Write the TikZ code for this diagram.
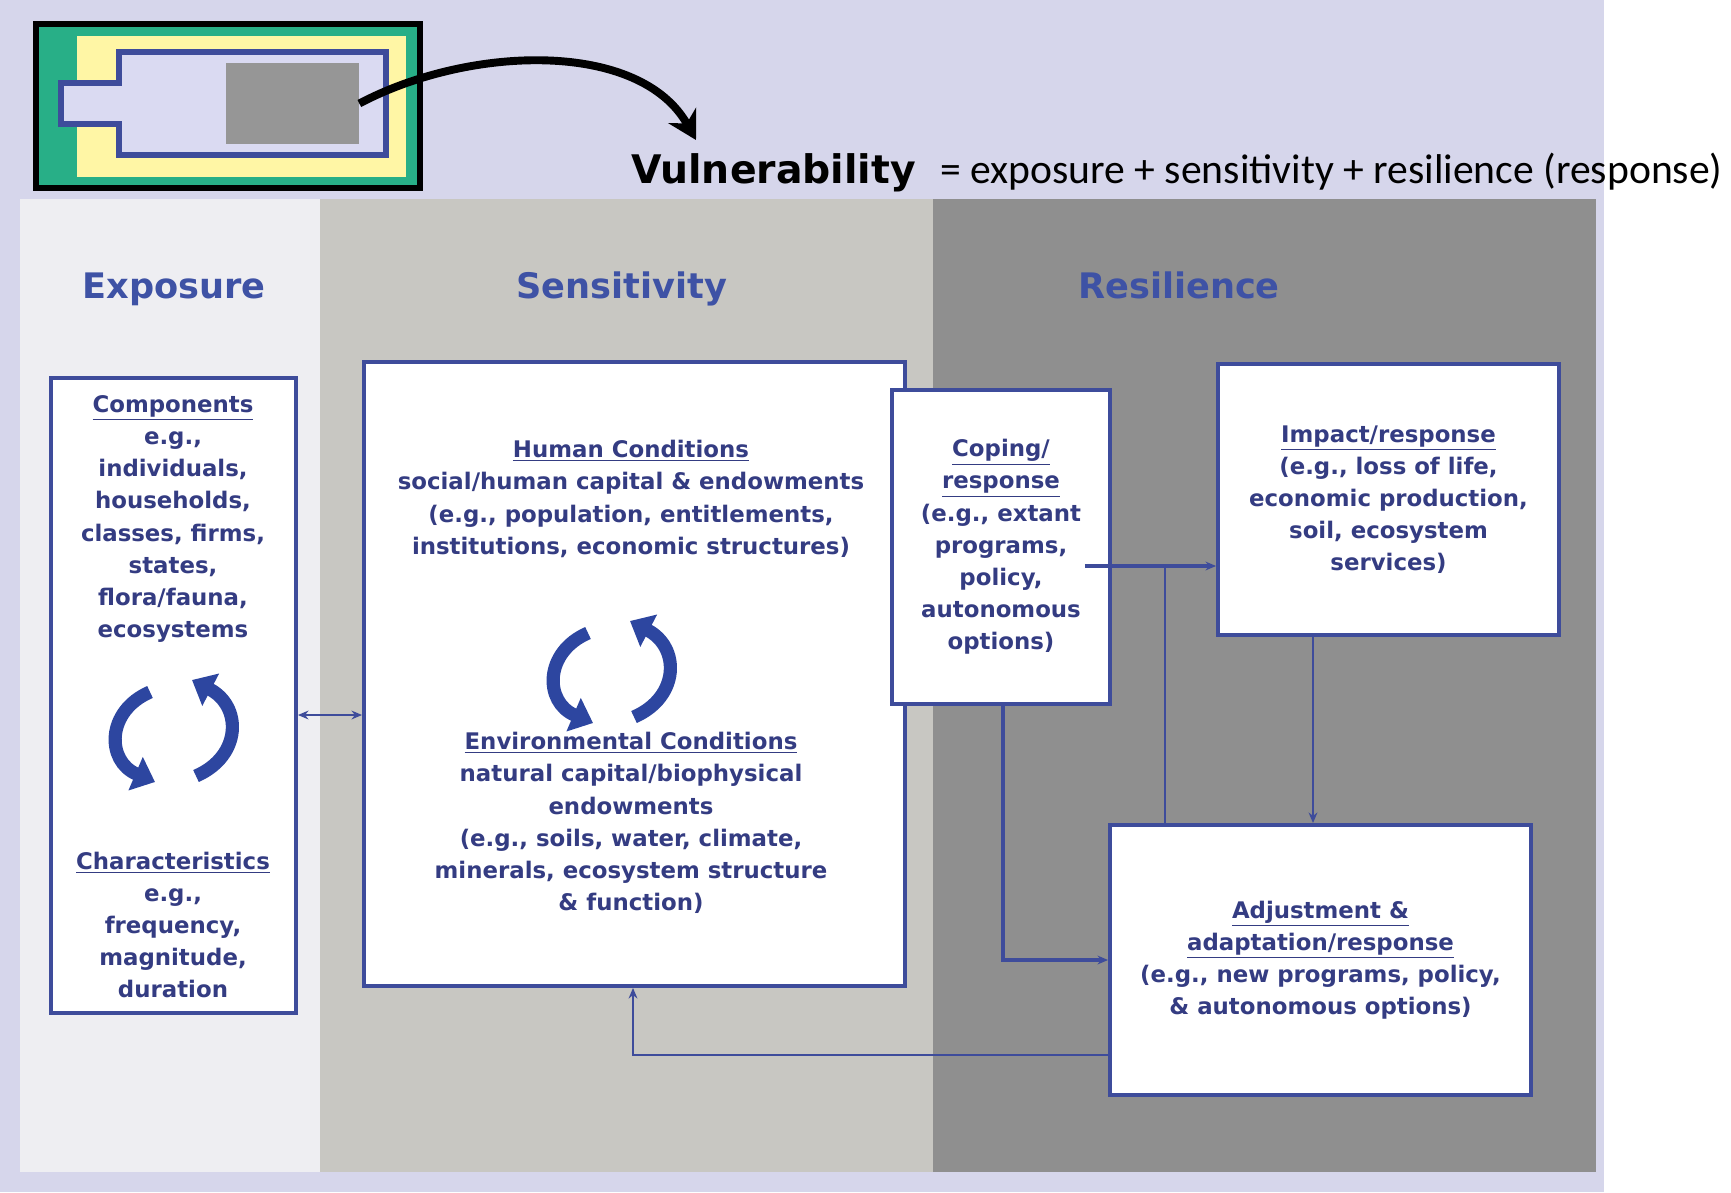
\documentclass[tikz,border=0pt]{standalone}
\usepackage{fontspec}
\setmainfont{DejaVu Sans}
\newfontfamily\calibfont{Carlito}
\usetikzlibrary{arrows.meta}
\definecolor{lavbg}{RGB}{214,214,235}
\definecolor{expobg}{RGB}{238,238,242}
\definecolor{sensbg}{RGB}{200,199,194}
\definecolor{resibg}{RGB}{143,143,143}
\definecolor{boxblue}{RGB}{62,76,155}
\definecolor{txtblue}{RGB}{52,60,130}
\definecolor{headblue}{RGB}{62,82,165}
\definecolor{cycblue}{RGB}{45,70,160}
\definecolor{icgreen}{RGB}{40,175,135}
\definecolor{icyellow}{RGB}{255,246,165}
\definecolor{iclav}{RGB}{218,218,242}
\definecolor{icgrey}{RGB}{150,150,150}

\begin{document}
\begin{tikzpicture}[x=0.2mm,y=-0.2mm,>={Stealth[length=6pt,width=5pt]},
  box/.style={draw=boxblue,line width=2.2pt,fill=white,inner sep=0pt},
  txt/.style={text=txtblue,align=center,font=\bfseries\fontsize{13}{18.3}\selectfont},
  head/.style={text=headblue,anchor=base,font=\bfseries\fontsize{20}{24}\selectfont},
  link/.style={draw=boxblue,line width=1.5pt,->},
  biglink/.style={link,line width=2.6pt},
  cyc/.style={draw=cycblue,line width=7.5pt,-{Triangle[width=20pt,length=12pt]}}]
  \useasboundingbox (0,0) rectangle (1731,1192);
  \fill[white] (0,0) rectangle (1731,1192);
  \fill[lavbg] (0,0) rectangle (1604,1192);
  \fill[expobg] (20,199) rectangle (320,1172);
  \fill[sensbg] (320,199) rectangle (933,1172);
  \fill[resibg] (933,199) rectangle (1596,1172);

  \draw[line width=3pt,fill=icgreen] (36,24) rectangle (420,188);
  \fill[icyellow] (77,36) rectangle (406,177);
  \draw[boxblue,line width=3pt,fill=iclav] (119,52) -- (386,52) -- (386,155) -- (119,155)
    -- (119,124) -- (61,124) -- (61,83) -- (119,83) -- cycle;
  \node[fill=icgrey,minimum width=26.6mm,minimum height=16.2mm,inner sep=0pt] (core) at (292.5,103.5) {};

  \node[anchor=base west,inner sep=0pt,font=\bfseries\fontsize{22.4}{26}\selectfont] (vul) at (631,183) {Vulnerability};
  \node[anchor=base west,inner sep=0pt,font=\calibfont\fontsize{23.7}{28}\selectfont] (eqn) at (940,183)
    {= exposure + sensitivity + resilience (response)};
  \coordinate (vtip) at (696,140);
  \draw[line width=4.5pt,-{Stealth[length=16pt,width=18pt]}] (core.east) .. controls (470,45) and (640,40) .. (vtip);

  \node[head] (hexpo) at (174,298) {Exposure};
  \node[head] (hsens) at (622,298) {Sensitivity};
  \node[head] (hresi) at (1179,298) {Resilience};

  \node[box,minimum width=49mm,minimum height=127mm] (expo) at (173.5,695.5) {};
  \node[box,minimum width=108.2mm,minimum height=124.8mm] (sens) at (634.5,674) {};
  \node[box,txt,minimum width=43.6mm,minimum height=62.8mm] (coping) at (1001,547)
    {\underline{Coping/}\\\underline{response}\\(e.g., extant\\programs,\\policy,\\autonomous\\options)};
  \node[box,txt,minimum width=68.2mm,minimum height=54.2mm] (impact) at (1388.5,499.5)
    {\underline{Impact/response}\\(e.g., loss of life,\\economic production,\\soil, ecosystem\\services)};
  \node[box,txt,minimum width=84.2mm,minimum height=54mm] (adjust) at (1320.5,960)
    {\underline{Adjustment \&}\\\underline{adaptation/response}\\(e.g., new programs, policy,\\\& autonomous options)};

  \node[txt] (comp) at (173,519) {\underline{Components}\\e.g.,\\individuals,\\households,\\classes, firms,\\states,\\flora/fauna,\\ecosystems};
  \node[txt] (chars) at (173,925) {\underline{Characteristics}\\e.g.,\\frequency,\\magnitude,\\duration};
  \node[txt] (human) at (631,499) {\underline{Human Conditions}\\social/human capital \& endowments\\(e.g., population, entitlements,\\institutions, economic structures)};
  \node[txt] (envir) at (631,823) {\underline{Environmental Conditions}\\natural capital/biophysical\\endowments\\(e.g., soils, water, climate,\\minerals, ecosystem structure\\\& function)};

  \foreach \cx/\cy in {174/731, 612/672} {
    \draw[cyc] (\cx-24,\cy-39) .. controls (\cx-68,\cy-20) and (\cx-68,\cy+30) .. (\cx-19,\cy+51);
    \draw[cyc] (\cx+22,\cy+45) .. controls (\cx+68,\cy+25) and (\cx+68,\cy-25) .. (\cx+18,\cy-51);
  }

  \coordinate (xrow) at (330,715);
  \coordinate (row1) at (1165,566);
  \coordinate (icol) at (1313,700);
  \coordinate (ccol) at (1003,960);
  \coordinate (back) at (633,1055);
  \draw[link,<->] (expo.east |- xrow) -- (sens.west |- xrow);
  \draw[link,-] (adjust.north -| row1) -- (row1);
  \draw[biglink] ([xshift=-5.4mm]coping.east |- row1) -- (impact.west |- row1);
  \draw[link] (impact.south -| icol) -- (adjust.north -| icol);
  \draw[biglink] (coping.south -| ccol) |- (adjust.west |- ccol);
  \draw[link] (adjust.west |- back) -| (sens.south -| back);
\end{tikzpicture}
\end{document}
